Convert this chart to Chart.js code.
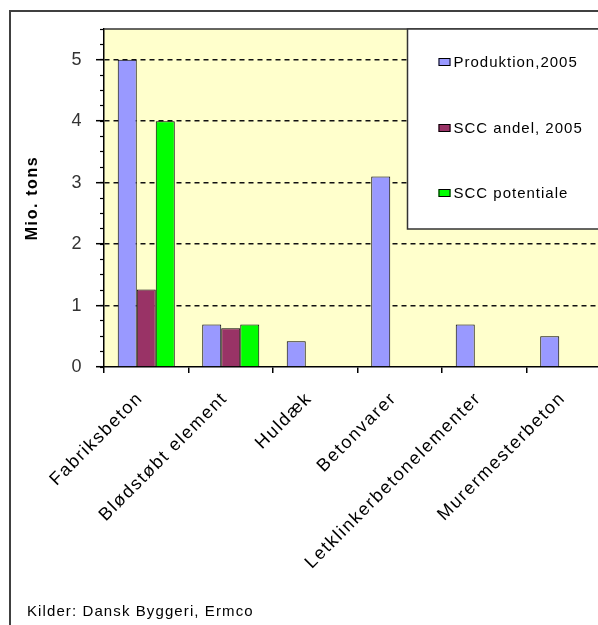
<!DOCTYPE html>
<html>
<head>
<meta charset="utf-8">
<script src="https://cdn.jsdelivr.net/npm/chart.js@4.4.1/dist/chart.umd.min.js"></script>
<style>
  html, body { margin: 0; padding: 0; background: #fff; overflow: hidden; width: 598px; height: 625px; }
  #wrap { position: absolute; left: 0; top: 0; width: 640px; height: 625px; }
  #source {
    position: absolute; left: 27px; top: 602px;
    font: 15px "Liberation Sans", Arial, sans-serif; letter-spacing: 1.1px;
    color: #000; white-space: nowrap;
  }
</style>
</head>
<body>
<div id="wrap"><canvas id="c" width="640" height="625"></canvas></div>
<div id="source">Kilder: Dansk Byggeri, Ermco</div>
<script>
// Concrete production in Denmark by product group (million tonnes)
const categories = ['Fabriksbeton', 'Blødstøbt element', 'Huldæk', 'Betonvarer', 'Letklinkerbetonelementer', 'Murermesterbeton'];
const seriesNames = ['Produktion,2005', 'SCC andel, 2005', 'SCC potentiale'];
const produktion2005 = [5.0, 0.69, 0.42, 3.1, 0.69, 0.5];
const sccAndel2005 = [1.26, 0.63, null, null, null, null];
const sccPotentiale = [4.0, 0.69, null, null, null, null];
const yTickLabels = [0, 1, 2, 3, 4, 5];
const yMax = 5.5;

const FONT = '"Liberation Sans", Arial, Helvetica, sans-serif';
const SPACING = '1.6px';

// Frame, plot background and the boxed legend inside the plot
const framePlugin = {
  id: 'frame',
  beforeUpdate(chart) { chart.ctx.letterSpacing = SPACING; },
  beforeDraw(chart) {
    const { ctx, chartArea: a } = chart;
    ctx.letterSpacing = SPACING;
    ctx.save();
    ctx.fillStyle = '#FFFFCC';
    ctx.fillRect(a.left, a.top, a.width, a.height);
    ctx.strokeStyle = '#404040';
    ctx.lineWidth = 2;
    ctx.beginPath();
    ctx.moveTo(10, chart.height);
    ctx.lineTo(10, 11);
    ctx.lineTo(chart.width, 11);
    ctx.stroke();
    ctx.restore();
  },
  afterDraw(chart) {
    const { ctx, chartArea: a } = chart;
    ctx.save();
    // plot area top edge
    ctx.strokeStyle = '#333';
    ctx.lineWidth = 1.5;
    ctx.beginPath();
    ctx.moveTo(a.left, a.top);
    ctx.lineTo(a.right, a.top);
    ctx.stroke();
    // legend box
    const bx = Math.round(a.left + a.width * 0.598) + 0.5;
    const by = a.top;
    const bw = chart.width - bx + 10;
    const bh = Math.round(a.height * 0.592);
    ctx.fillStyle = '#fff';
    ctx.fillRect(bx, by, bw, bh);
    ctx.strokeStyle = '#333';
    ctx.lineWidth = 1.5;
    ctx.strokeRect(bx, by, bw, bh);
    ctx.font = '15px ' + FONT;
    ctx.letterSpacing = '1px';
    ctx.textAlign = 'left';
    ctx.textBaseline = 'middle';
    chart.data.datasets.forEach((ds, i) => {
      const cy = Math.round(by + 33 + i * 65.5);
      ctx.fillStyle = ds.backgroundColor;
      ctx.fillRect(bx + 31, cy - 4, 12, 8);
      ctx.strokeStyle = '#000';
      ctx.lineWidth = 1;
      ctx.strokeRect(bx + 31.5, cy - 3.5, 11, 7);
      ctx.fillStyle = '#000';
      ctx.fillText(ds.label, bx + 46, cy + 1);
    });
    ctx.restore();
  }
};

const isMajor = (c) => c.tick && yTickLabels.includes(c.tick.value);

new Chart(document.getElementById('c'), {
  type: 'bar',
  data: {
    labels: categories,
    datasets: [
      { label: seriesNames[0], data: produktion2005, backgroundColor: '#9999FF' },
      { label: seriesNames[1], data: sccAndel2005, backgroundColor: '#993366' },
      { label: seriesNames[2], data: sccPotentiale, backgroundColor: '#00FF00' }
    ]
  },
  options: {
    responsive: false,
    animation: false,
    devicePixelRatio: 1,
    layout: { padding: { left: 0, top: 29, right: 29, bottom: 0 } },
    datasets: {
      bar: {
        borderColor: '#000',
        borderWidth: 1,
        categoryPercentage: 0.675,
        barPercentage: 1.0,
        yAxisID: 'y',
        xAxisID: 'x'
      }
    },
    plugins: {
      legend: { display: false },
      tooltip: { enabled: false },
      title: { display: false }
    },
    scales: {
      x: {
        type: 'category',
        position: 'bottom',
        grid: {
          offset: true,
          drawOnChartArea: false,
          drawTicks: true,
          tickLength: 6,
          color: '#000',
          tickColor: '#000',
          lineWidth: 1.5
        },
        border: { display: true, color: '#000', width: 1.5 },
        ticks: {
          autoSkip: false,
          minRotation: 45,
          maxRotation: 45,
          padding: 15,
          labelOffset: -6,
          color: '#000',
          font: { family: FONT, size: 18 }
        },
        afterFit(scale) { scale.height = 258; }
      },
      y: {
        type: 'linear',
        position: 'left',
        weight: 1,
        min: 0,
        max: yMax,
        ticks: {
          stepSize: 1,
          padding: 13,
          color: '#333',
          font: { family: FONT, size: 18 },
          callback: (v) => (yTickLabels.includes(v) ? String(v) : '')
        },
        grid: {
          color: (c) => (isMajor(c) && c.tick.value > 0 ? '#111' : 'rgba(0,0,0,0)'),
          lineWidth: 1.4,
          tickLength: 8,
          tickWidth: 1.5,
          tickColor: (c) => (isMajor(c) ? '#000' : 'rgba(0,0,0,0)')
        },
        border: {
          display: true,
          color: '#000',
          width: 1.5,
          dash: (c) => (c.tick ? [5, 4] : [])
        },
        title: {
          display: true,
          text: 'Mio. tons',
          color: '#000',
          font: { family: FONT, size: 16, weight: 'bold' },
          padding: { top: 23, bottom: 0 }
        },
        afterFit(scale) { scale.width = 104; }
      },
      yMinor: {
        type: 'linear',
        axis: 'y',
        position: 'left',
        weight: 0,
        display: true,
        min: 0,
        max: yMax,
        ticks: { display: false, stepSize: 0.25 },
        grid: {
          drawOnChartArea: false,
          drawTicks: true,
          tickLength: 4,
          tickColor: '#000',
          tickWidth: 1.2
        },
        border: { display: false },
        afterFit(scale) { scale.width = 0; }
      }
    }
  },
  plugins: [framePlugin]
});
</script>
</body>
</html>
